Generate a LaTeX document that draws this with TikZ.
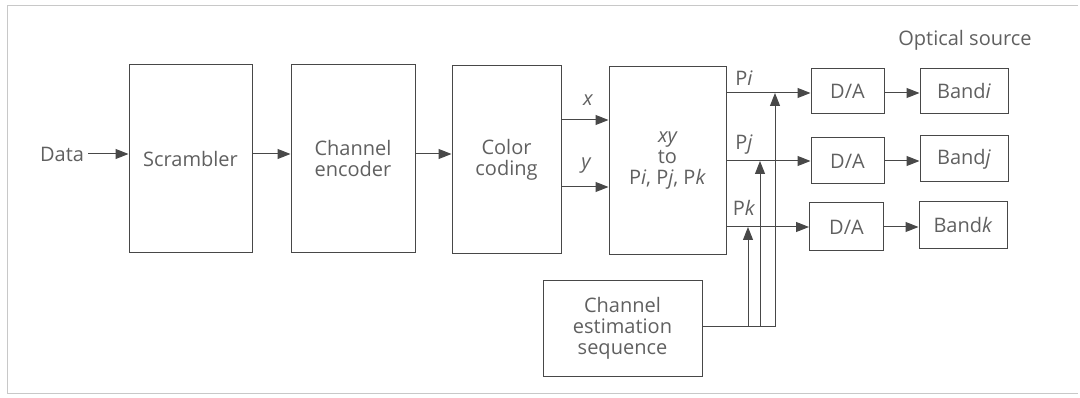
\documentclass[tikz,border=0pt]{standalone}
\usepackage{fontspec}
\setmainfont{Open Sans}
\usetikzlibrary{arrows.meta}
\definecolor{txt}{HTML}{606060}
\definecolor{ln}{HTML}{484848}
\definecolor{frm}{HTML}{C8C8C8}
\begin{document}
\begin{tikzpicture}[x=1pt,y=-1pt,
  box/.style={draw=ln,line width=1pt,rectangle,inner sep=0pt,align=center,text=txt,font=\fontsize{20}{21}\selectfont},
  lbl/.style={text=txt,inner sep=0pt,font=\fontsize{20}{21}\selectfont},
  arr/.style={draw=ln,line width=1pt,-{Triangle[length=13pt,width=10pt]}},
  wire/.style={draw=ln,line width=1pt}]
\useasboundingbox (0,0) rectangle (1080,398);
\draw[frm,line width=0.8pt] (1078,5) -- (7,5) -- (7,393) -- (1078,393);

\node[lbl] (data) at (62,154) {Data};
\node[box,minimum width=123pt,minimum height=188pt] (scr) at (190.5,159) {Scrambler};
\node[box,minimum width=124pt,minimum height=188pt] (enc) at (353,159) {Channel\\encoder};
\node[box,minimum width=109pt,minimum height=188pt] (col) at (506.5,160) {Color\\coding};
\node[box,minimum width=117pt,minimum height=188pt] (xy) at (667.5,161) {\itshape xy\\to\\P\textit{i}, P\textit{j}, P\textit{k}};

\node[box,minimum width=73pt,minimum height=45pt] (da1) at (847.5,91) {D/A};
\node[box,minimum width=73pt,minimum height=46pt] (da2) at (847.5,161) {D/A};
\node[box,minimum width=74pt,minimum height=48pt] (da3) at (846.5,227) {D/A};
\node[box,minimum width=88pt,minimum height=45pt] (b1) at (964,91) {Band\textit{i}};
\node[box,minimum width=88pt,minimum height=46pt] (b2) at (964,159) {Band\textit{j}};
\node[box,minimum width=88pt,minimum height=47pt] (b3) at (963,225.5) {Band\textit{k}};
\node[lbl] (opt) at (965,40) {Optical source};

\node[box,minimum width=159pt,minimum height=95pt] (ces) at (622.5,328.5) {Channel\\estimation\\sequence};

\node[lbl,font=\fontsize{20}{21}\selectfont\itshape] (lx) at (588,100) {x};
\node[lbl,font=\fontsize{20}{21}\selectfont\itshape] (ly) at (586,166) {y};
\node[lbl] (lpi) at (744,78) {P\textit{i}};
\node[lbl] (lpj) at (744,145) {P\textit{j}};
\node[lbl] (lpk) at (744,208) {P\textit{k}};

% main chain
\coordinate (r0) at (0,154);
\draw[arr,shorten <=4pt] (data.east) -- (scr.west |- data.east);
\draw[arr] (scr.east |- r0) -- (enc.west |- r0);
\draw[arr] (enc.east |- r0) -- (col.west |- r0);
\coordinate (rx) at (0,120);
\coordinate (ry) at (0,187);
\draw[arr] (col.east |- rx) -- (xy.west |- rx);
\draw[arr] (col.east |- ry) -- (xy.west |- ry);

% outputs
\coordinate (ri) at (0,93);
\draw[arr] (xy.east |- ri) -- (da1.west |- ri);
\draw[arr] (xy.east |- da2.west) -- (da2.west);
\draw[arr] (xy.east |- da3.west) -- (da3.west);
\draw[arr] (da1.east |- ri) -- (b1.west |- ri);
\draw[arr] (da2.east) -- (b2.west |- da2.east);
\draw[arr] (da3.east) -- (b3.west |- da3.east);

% channel estimation feeds
\coordinate (ck) at (748,327);
\coordinate (cj) at (760,327);
\coordinate (ci) at (775,327);
\draw[wire] (ces.east |- ci) -- (ci);
\draw[arr] (ci) -- (ci |- ri);
\draw[arr] (cj) -- (cj |- da2.west);
\draw[arr] (ck) -- (ck |- da3.west);
\end{tikzpicture}
\end{document}
